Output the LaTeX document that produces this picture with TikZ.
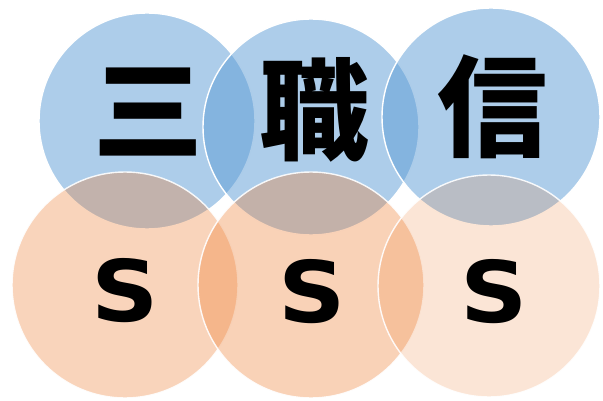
\documentclass[tikz,border=0pt]{standalone}
\usepackage{fontspec}
\newfontfamily\cjkfont{Noto Sans CJK JP}
\newfontfamily\sfont{DejaVu Sans}
\definecolor{topblue}{HTML}{5B9BD5}
\definecolor{botorange}{HTML}{ED7D31}
\begin{document}
\begin{tikzpicture}[x=1pt,y=-1pt,
  bluecirc/.style={fill=topblue,fill opacity=0.5,draw=white,line width=1.4pt},
  orangecirc/.style={fill=botorange,fill opacity=#1,draw=white,draw opacity=0.9,line width=1.4pt},
  kanji/.style={inner sep=0pt,text=black,font=\cjkfont\bfseries\fontsize{110}{110}\selectfont},
  letter/.style={inner sep=0pt,text=black,xscale=1.1,font=\sfont\bfseries\fontsize{85}{85}\selectfont}]
\useasboundingbox (0,0) rectangle (603,401);
% top row
\path[bluecirc] (147,121) circle (108);
\path[bluecirc] (311,127) circle (108);
\path[bluecirc] (491,117) circle (109);
% bottom row
\path[orangecirc=0.33] (125,285) circle (113);
\path[orangecirc=0.35] (311,285) circle (113);
\path[orangecirc=0.2] (489,286) circle (111);
% texts
\node[kanji] (k1) at (148,112) {三};
\node[kanji] (k2) at (314,110) {職};
\node[kanji] (k3) at (492,107) {信};
\node[letter] (s1) at (125,291) {S};
\node[letter] (s2) at (312,292) {S};
\node[letter] (s3) at (494,292) {S};
\end{tikzpicture}
\end{document}
